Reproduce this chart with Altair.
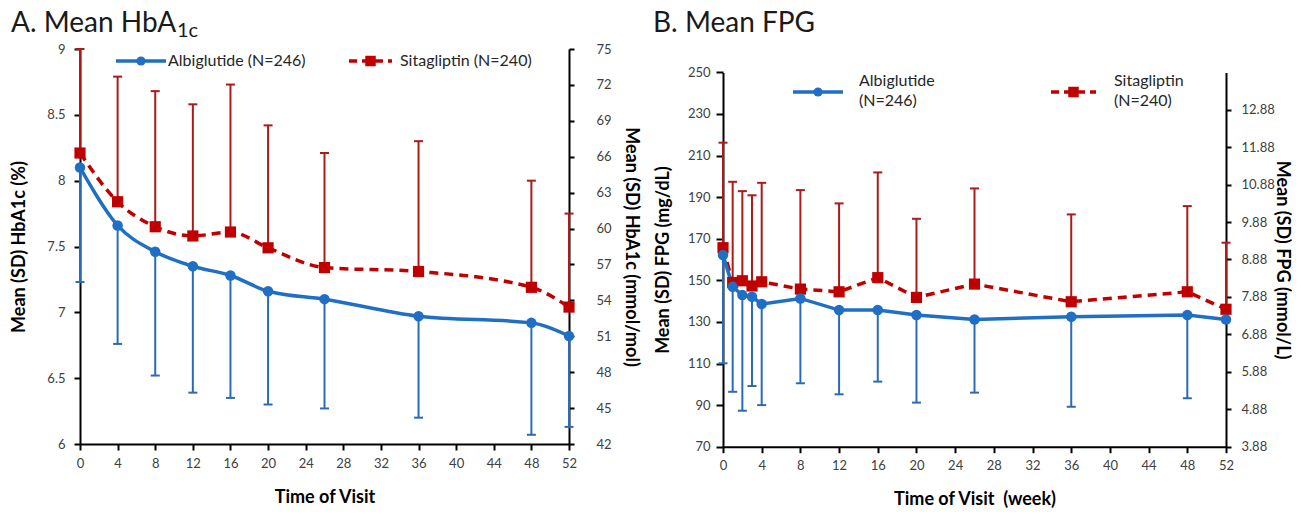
import altair as alt
import pandas as pd

FONT = "Lato"
BLUE = "#1f6fc4"
BLUE_BAR = "#2a6cb4"
RED = "#c00000"
RED_BAR = "#ad1a1a"
LABEL_COLOR = "#404040"

# ---------------- Panel A data (HbA1c, %) ----------------
a_weeks = [0, 4, 8, 12, 16, 20, 26, 36, 48, 52]
a_albi = [8.10, 7.66, 7.46, 7.35, 7.28, 7.16, 7.10, 6.97, 6.92, 6.82]
a_albi_lo = [7.23, 6.76, 6.52, 6.39, 6.35, 6.30, 6.27, 6.20, 6.07, 6.13]
a_sita = [8.21, 7.84, 7.65, 7.58, 7.61, 7.49, 7.34, 7.31, 7.19, 7.04]
a_sita_hi = [9.00, 8.79, 8.68, 8.58, 8.73, 8.42, 8.21, 8.30, 8.00, 7.75]
a_left_ticks = [6, 6.5, 7, 7.5, 8, 8.5, 9]
a_right_ticks = [42, 45, 48, 51, 54, 57, 60, 63, 66, 69, 72, 75]

# ---------------- Panel B data (FPG, mg/dL) ----------------
b_weeks = [0, 1, 2, 3, 4, 8, 12, 16, 20, 26, 36, 48, 52]
b_albi = [162.2, 146.9, 142.9, 142.1, 138.6, 141.3, 135.7, 135.7, 133.3, 131.2, 132.5, 133.3, 131.2]
b_albi_lo = [110.1, 96.4, 87.3, 99.2, 90.0, 100.5, 95.2, 101.3, 91.2, 96.0, 89.2, 93.3, None]
b_sita = [165.7, 148.9, 149.8, 147.3, 149.3, 145.8, 144.5, 151.3, 141.8, 148.2, 139.7, 144.5, 136.1]
b_sita_hi = [216.2, 197.4, 192.9, 190.9, 196.9, 193.4, 187.0, 201.9, 179.6, 194.2, 181.7, 185.7, 168.1]
b_left_ticks = [70, 90, 110, 130, 150, 170, 190, 210, 230, 250]
b_right_ticks = [3.88, 4.88, 5.88, 6.88, 7.88, 8.88, 9.88, 10.88, 11.88, 12.88]

x_ticks = list(range(0, 53, 4))

ONE = pd.DataFrame({"k": [0]})


def txt(text, x, y, size, align="left", baseline="alphabetic", weight="normal", color="#1a1a1a"):
    return alt.Chart(ONE).mark_text(
        align=align, baseline=baseline, fontSize=size, font=FONT, fontWeight=weight, color=color
    ).encode(x=alt.value(x), y=alt.value(y), text=alt.value(text))


def legend_items(bx0, bx1, y, label_x, labels, label_ys, red):
    col = RED if red else BLUE
    rule = alt.Chart(ONE).mark_rule(
        color=col, strokeWidth=3.5, strokeDash=[8, 5] if red else [1, 0]
    ).encode(x=alt.value(bx0), x2=alt.value(bx1), y=alt.value(y))
    pt = alt.Chart(ONE).mark_point(
        shape="square" if red else "circle", filled=True, opacity=1, color=col,
        size=110 if red else 85
    ).encode(x=alt.value((bx0 + bx1) / 2), y=alt.value(y))
    texts = [txt(l, label_x, ly, 16, baseline="middle", color="#262626") for l, ly in zip(labels, label_ys)]
    return [rule, pt] + texts


def panel(weeks, albi, albi_lo, sita, sita_hi, ydom, yticks, yfmt, ytitle, ytitle_x,
          rdom, rticks, rfmt, rtitle, rtitle_x, rlabpad, xtitle, xtitle_y,
          W, H, ytop, interp, left_tick, left_pad, extra):
    df = pd.DataFrame({"week": weeks, "albi": albi, "albi_lo": albi_lo, "sita": sita, "sita_hi": sita_hi})
    base = alt.Chart(df)
    mid = (ytop + H) / 2
    xenc = alt.X("week:Q", scale=alt.Scale(domain=[0, 52], nice=False),
                 axis=alt.Axis(values=x_ticks, title=xtitle, tickSize=6, labelPadding=7,
                               labelOverlap=False, labelBound=False, labelFlush=False,
                               titleY=xtitle_y, titleBaseline="middle", titleX=W / 2))
    yscale = alt.Scale(domain=ydom, nice=False, range=[H, ytop])
    yaxis = alt.Axis(values=yticks, format=yfmt, title=ytitle, tickSize=left_tick, labelPadding=left_pad,
                     labelOverlap=False, labelBound=False, labelFlush=False,
                     titleX=ytitle_x, titleY=mid, titleAlign="center", titleBaseline="middle",
                     titleAngle=270)

    def Y(field):
        return alt.Y(field, scale=yscale, axis=yaxis)

    valid = "isValid(datum.albi_lo)"
    blue_bar = base.transform_filter(valid).mark_rule(color=BLUE_BAR, strokeWidth=2).encode(
        x=xenc, y=Y("albi:Q"), y2="albi_lo:Q")
    blue_cap = base.transform_filter(valid).mark_tick(
        color=BLUE_BAR, orient="horizontal", size=9, thickness=2, opacity=1).encode(x=xenc, y=Y("albi_lo:Q"))
    red_bar = base.mark_rule(color=RED_BAR, strokeWidth=2).encode(x=xenc, y=Y("sita:Q"), y2="sita_hi:Q")
    red_cap = base.mark_tick(color=RED_BAR, orient="horizontal", size=9, thickness=2, opacity=1).encode(
        x=xenc, y=Y("sita_hi:Q"))
    blue_line = base.mark_line(color=BLUE, strokeWidth=3.5, interpolate=interp).encode(x=xenc, y=Y("albi:Q"))
    red_line = base.mark_line(color=RED, strokeWidth=3.5, strokeDash=[9, 6], interpolate=interp).encode(
        x=xenc, y=Y("sita:Q"))
    blue_pts = base.mark_point(shape="circle", filled=True, opacity=1, color=BLUE, size=110).encode(
        x=xenc, y=Y("albi:Q"))
    red_pts = base.mark_point(shape="square", filled=True, opacity=1, color=RED, size=125).encode(
        x=xenc, y=Y("sita:Q"))

    main = alt.layer(blue_bar, blue_cap, red_bar, red_cap, red_line, blue_line, red_pts, blue_pts, *extra)

    rdf = pd.DataFrame({"r": rticks})
    right = alt.Chart(rdf).mark_tick(opacity=0).encode(
        y=alt.Y("r:Q", scale=alt.Scale(domain=rdom, nice=False, range=[H, ytop]),
                axis=alt.Axis(orient="right", values=rticks, format=rfmt, title=rtitle, tickSize=5,
                              labelOverlap=False, labelBound=False, labelFlush=False,
                              labelPadding=rlabpad, titleX=rtitle_x, titleY=mid, titleAngle=90,
                              titleAlign="center", titleBaseline="middle")))
    return alt.layer(main, right).resolve_scale(y="independent").properties(width=W, height=H)


# Panel A: plot area 79..568 x 49..444
WA, HA = 489, 395
extra_a = [
    txt("A. Mean HbA", -69, -17, 28),
    txt("1c", 97, -12, 20),
] + legend_items(36, 86, 12, 88, ["Albiglutide (N=246)"], [12], False) \
  + legend_items(269, 312, 12, 320, ["Sitagliptin (N=240)"], [12], True)

chart_a = panel(a_weeks, a_albi, a_albi_lo, a_sita, a_sita_hi, [6, 9], a_left_ticks, "~g",
                "Mean (SD) HbA1c (%)", -61, [42, 75], a_right_ticks, "d",
                "Mean (SD) HbA1c (mmol/mol)", 61, 22, "Time of Visit", 53, WA, HA, 0, "monotone", 6, 9, extra_a)

# Panel B: origin aligned with A (y=49); plot spans 72.4..446.7 -> range [397.7, 23.4]
WB, HB, TOPB = 503, 397.7, 23.4
extra_b = [
    txt("B. Mean FPG", -70, -17, 28),
] + legend_items(70, 120, 43, 136, ["Albiglutide", "(N=246)"], [32, 52], False) \
  + legend_items(328, 373, 43, 391, ["Sitagliptin", "(N=240)"], [32, 52], True)

chart_b = panel(b_weeks, b_albi, b_albi_lo, b_sita, b_sita_hi, [70, 250], b_left_ticks, "d",
                "Mean (SD) FPG (mg/dL)", -60, [3.88, 13.875], b_right_ticks, ".2f",
                "Mean (SD) FPG (mmol/L)", 55, 10, "Time of Visit \u00a0(week)", 53, WB, HB, TOPB,
                "linear", 7, 6, extra_b)

chart = alt.hconcat(chart_a, chart_b, spacing=14).properties(
    padding={"left": 2, "top": 2, "right": 2, "bottom": 2},
    background="white",
).configure_view(stroke=None).configure_axis(
    domainColor="black", domainWidth=2, tickColor="black", tickWidth=2, grid=False,
    labelFont=FONT, labelFontSize=13, labelColor=LABEL_COLOR,
    titleFont=FONT, titleFontSize=18, titleFontWeight="bold", titleColor="#000000",
)

chart.save("out.html", embed_options={"renderer": "svg", "actions": False})
